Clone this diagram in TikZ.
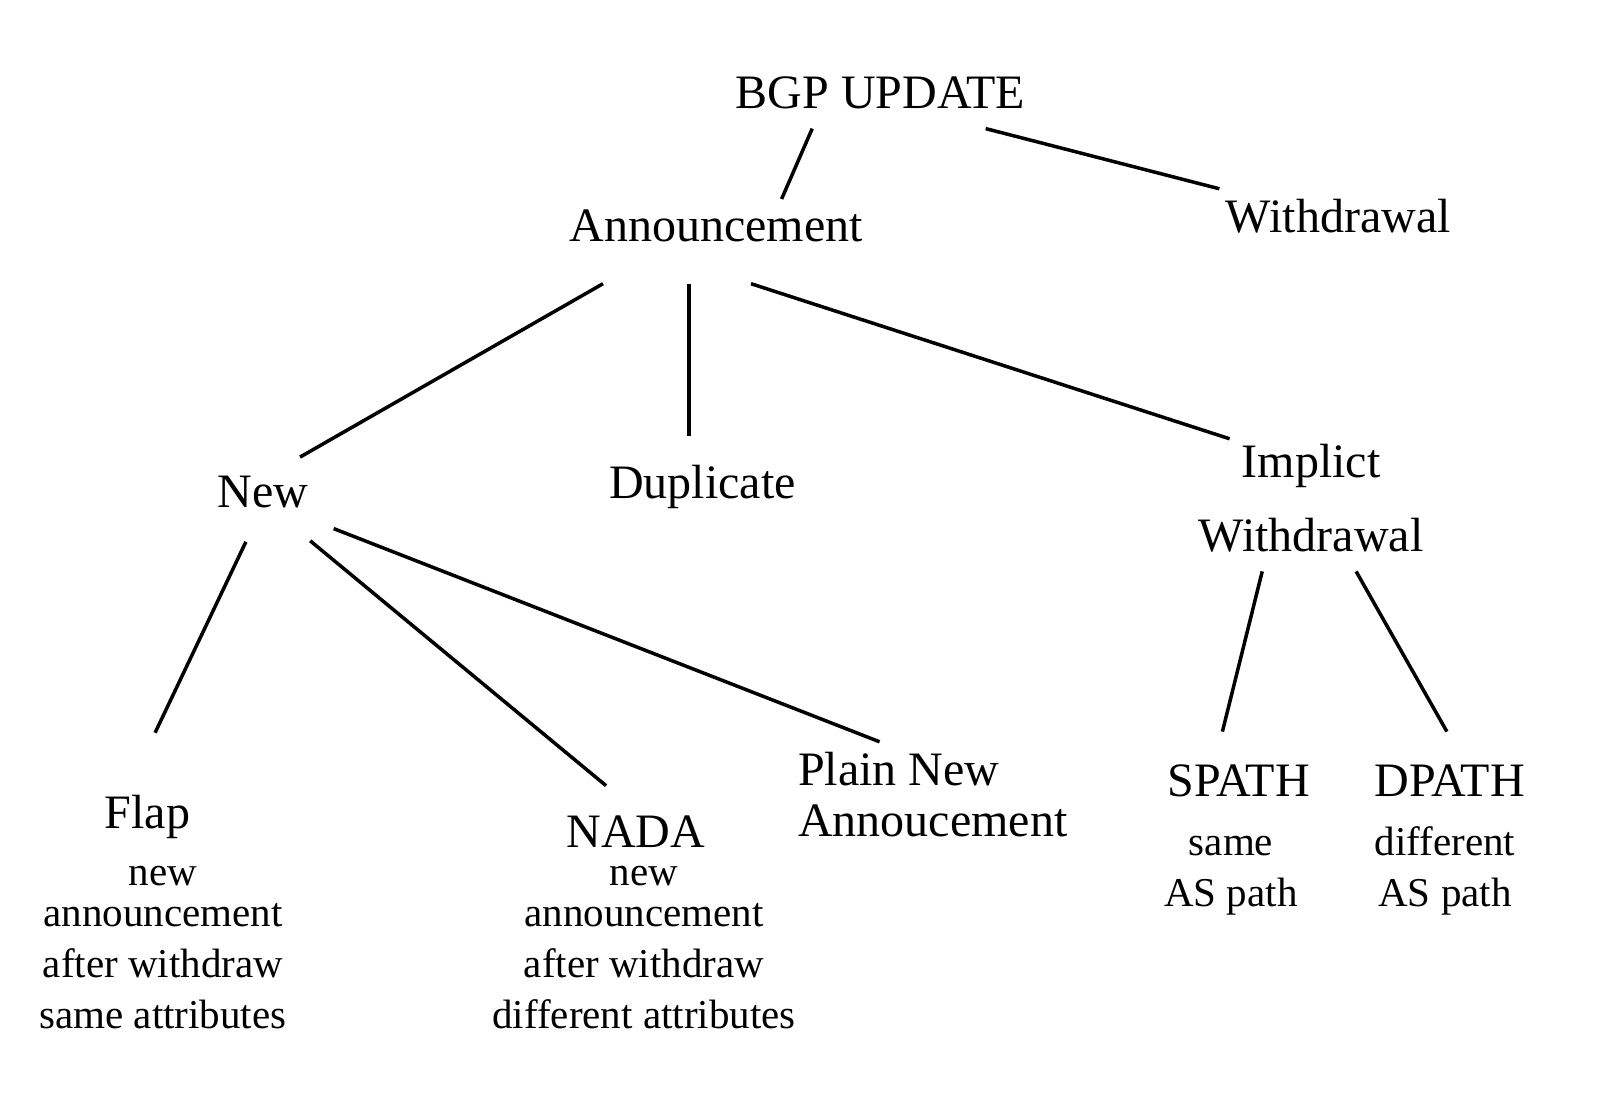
\documentclass[tikz,border=0pt]{standalone}
\usepackage{fontspec}
\setmainfont{Liberation Serif}
\begin{document}
\begin{tikzpicture}[x=1pt,y=1pt,
  label big/.style={inner sep=0pt, anchor=base, font=\fontsize{48}{51}\selectfont},
  label small/.style={inner sep=0pt, anchor=base, align=center, font=\fontsize{41}{51}\selectfont},
  branch/.style={line width=3.5pt}]
\useasboundingbox[fill=white] (0,0) rectangle (1600,-1100);

% category labels (multi-line nodes sit on the baseline of their last line)
\node[label big] (bgp)  at (880.6,-108.2) {BGP UPDATE};
\node[label big] (ann)  at (716.3,-241.8) {Announcement};
\node[label big] (wd)   at (1338.3,-232.7) {Withdrawal};
\node[label big] (new)  at (262.8,-507.1) {New};
\node[label big] (dup)  at (702.6,-498.0) {Duplicate};
\node[label big, align=center, font=\fontsize{48}{73.4}\selectfont] (iw) at (1311,-551.0) {Implict\\Withdrawal};
\node[label big, align=left, anchor=base west] (plain) at (798,-836.7) {Plain New\\Annoucement};
\node[label big] (flap) at (147.4,-828.6) {Flap};
\node[label big] (nada) at (635.7,-847.0) {NADA};
\node[label big] (spath) at (1238.8,-796.0) {SPATH};
\node[label big] (dpath) at (1449.5,-796.0) {DPATH};

% descriptions
\node[label small] (flapd) at (163,-1028.6) {new\\[-10pt]announcement\\after withdraw\\same attributes};
\node[label small] (nadad) at (644,-1028.6) {new\\[-10pt]announcement\\after withdraw\\different attributes};
\node[label small] (spathd) at (1231,-906.0) {same\\AS path};
\node[label small] (dpathd) at (1445,-906.0) {different\\AS path};

% connector end points
\coordinate (bgp-ann)  at (812.2,-128.6);
\coordinate (ann-bgp)  at (781.6,-199.0);
\coordinate (bgp-wd)   at (985.7,-128.6);
\coordinate (wd-bgp)   at (1219.4,-188.8);
\coordinate (ann-new)  at (603.0,-283.7);
\coordinate (new-ann)  at (300.0,-457.1);
\coordinate (ann-dup)  at (688.8,-283.7);
\coordinate (dup-ann)  at (688.8,-435.7);
\coordinate (ann-iw)   at (751.0,-283.7);
\coordinate (iw-ann)   at (1229.6,-438.8);
\coordinate (new-flap) at (245.9,-541.8);
\coordinate (flap-new) at (155.1,-732.7);
\coordinate (new-nada) at (310.2,-540.8);
\coordinate (nada-new) at (606.1,-785.7);
\coordinate (new-plain) at (333.7,-528.6);
\coordinate (plain-new) at (879.6,-741.8);
\coordinate (iw-spath) at (1262.2,-571.4);
\coordinate (spath-iw) at (1222.4,-731.6);
\coordinate (iw-dpath) at (1356.1,-571.4);
\coordinate (dpath-iw) at (1446.9,-731.6);

% tree branches
\draw[branch] (bgp-ann) -- (ann-bgp);
\draw[branch] (bgp-wd) -- (wd-bgp);
\draw[branch] (ann-new) -- (new-ann);
\draw[branch] (ann-dup) -- (dup-ann);
\draw[branch] (ann-iw) -- (iw-ann);
\draw[branch] (new-flap) -- (flap-new);
\draw[branch] (new-nada) -- (nada-new);
\draw[branch] (new-plain) -- (plain-new);
\draw[branch] (iw-spath) -- (spath-iw);
\draw[branch] (iw-dpath) -- (dpath-iw);
\end{tikzpicture}
\end{document}
